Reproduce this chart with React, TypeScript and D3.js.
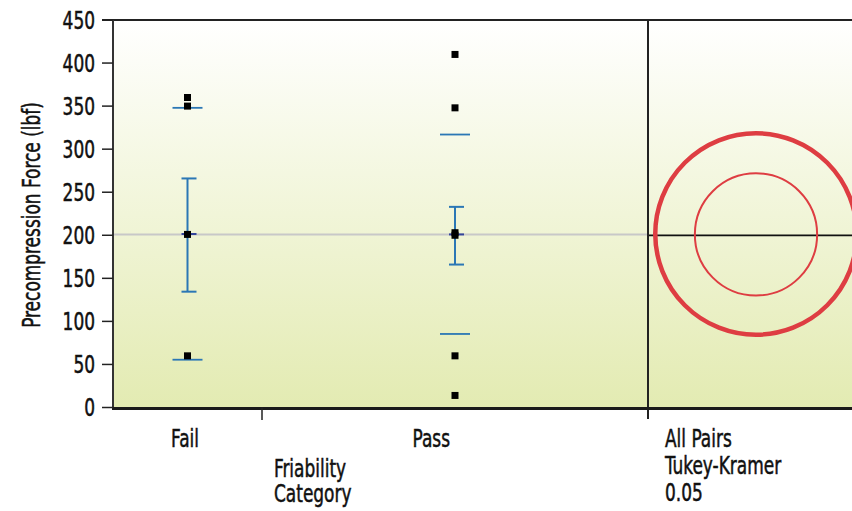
import React from "react";
import * as d3 from "d3";

const categories = ["Fail", "Pass"];
const bandWeights = [149, 386];
const failPoints = [360, 350, 201, 60];
const passPoints = [410, 348, 203, 200, 60, 14];
const means = [201.5, 201];
const ciLower = [134.5, 166];
const ciUpper = [266, 233];
const sdLower = [55.5, 85.4];
const sdUpper = [348, 317];
const circleRadii = [117, 71];
const grandMean = 201;
const yTicks = [0, 50, 100, 150, 200, 250, 300, 350, 400, 450];
const rightLabel = ["All Pairs", "Tukey-Kramer", "0.05"];
const xTitle = ["Friability", "Category"];
const yTitle = "Precompression Force (lbf)";

const W = 852, H = 511;
const L = 113, R = 648, T = 20, B = 407.5;
const FONT = "'DejaVu Sans Condensed', 'DejaVu Sans', sans-serif";
const BLUE = "#2b77b5";
const RED = "#de3d42";
const SX = 0.77;

function T_({ x, y, children, anchor = "start", rotate = 0, size = 24.5 }: any) {
  return (
    <text
      transform={`translate(${x},${y}) rotate(${rotate}) scale(${SX},1)`}
      textAnchor={anchor}
      fontSize={size}
      fill="#111"
      stroke="#111"
      strokeWidth={0.5}
    >
      {children}
    </text>
  );
}

export default function App() {
  const y = d3.scaleLinear().domain([0, 450]).range([B, T]);
  const total = d3.sum(bandWeights);
  const widths = bandWeights.map((w) => (w / total) * (R - L));
  const starts = widths.map((_, i) => L + d3.sum(widths.slice(0, i)));
  const centers = widths.map((w, i) => starts[i] + w / 2);
  const pointsByCat = [failPoints, passPoints];
  const rightCx = 756;

  return (
    <svg width={W} height={H} style={{ position: "absolute", left: 0, top: 0 }} fontFamily={FONT}>
      <defs>
        <linearGradient id="bg" x1="0" y1="0" x2="0" y2="1">
          <stop offset="0%" stopColor="#ffffff" />
          <stop offset="100%" stopColor="#e3ebb2" />
        </linearGradient>
        <clipPath id="rclip">
          <rect x={R} y={T} width={W - R} height={B - T} />
        </clipPath>
      </defs>
      <rect x={0} y={0} width={W} height={H} fill="#fff" />
      <rect x={L} y={T} width={W - L} height={B - T} fill="url(#bg)" />

      <line x1={L} x2={R} y1={y(grandMean)} y2={y(grandMean)} stroke="#c8c8c8" strokeWidth={2} />

      {categories.map((c, i) => {
        const cx = centers[i];
        return (
          <g key={c}>
            <line x1={cx - 15} x2={cx + 15} y1={y(sdUpper[i])} y2={y(sdUpper[i])} stroke={BLUE} strokeWidth={1.8} />
            <line x1={cx - 15} x2={cx + 15} y1={y(sdLower[i])} y2={y(sdLower[i])} stroke={BLUE} strokeWidth={1.8} />
            <line x1={cx} x2={cx} y1={y(ciUpper[i])} y2={y(ciLower[i])} stroke={BLUE} strokeWidth={2} />
            <line x1={cx - 6} x2={cx + 9} y1={y(ciUpper[i])} y2={y(ciUpper[i])} stroke={BLUE} strokeWidth={2} />
            <line x1={cx - 6} x2={cx + 9} y1={y(ciLower[i])} y2={y(ciLower[i])} stroke={BLUE} strokeWidth={2} />
            <line x1={cx - 6} x2={cx + 9} y1={y(means[i])} y2={y(means[i])} stroke="#34449a" strokeWidth={2} />
            {pointsByCat[i].map((v, j) => (
              <rect key={j} x={cx - 3.5} y={y(v) - 3.5} width={7} height={7} fill="#000" />
            ))}
          </g>
        );
      })}

      <g clipPath="url(#rclip)">
        <line x1={R} x2={W} y1={y(200)} y2={y(200)} stroke="#111" strokeWidth={1.8} />
        {categories.map((c, i) => (
          <circle key={c} cx={rightCx} cy={y(means[i])} r={y(0) - y(circleRadii[i])}
            fill="none" stroke={RED} strokeWidth={i === 0 ? 4.5 : 2} />
        ))}
      </g>

      <line x1={102} x2={W} y1={T} y2={T} stroke="#222" strokeWidth={2} />
      <line x1={L} x2={L} y1={T} y2={B} stroke="#333" strokeWidth={2} />
      <line x1={R} x2={R} y1={T} y2={419} stroke="#222" strokeWidth={2} />
      <line x1={L - 1} x2={W} y1={B + 1} y2={B + 1} stroke="#1a1a1a" strokeWidth={3} />

      {yTicks.map((t) => (
        <g key={t}>
          <line x1={102} x2={L} y1={y(t)} y2={y(t)} stroke="#222" strokeWidth={1.5} />
          <T_ x={95} y={y(t) + 8.6} anchor="end">{t}</T_>
        </g>
      ))}
      <T_ x={40} y={215} anchor="middle" rotate={-90}>{yTitle}</T_>

      {starts.slice(1).map((s, i) => (
        <line key={i} x1={s} x2={s} y1={B} y2={420} stroke="#222" strokeWidth={1.5} />
      ))}
      {categories.map((c, i) => (
        <T_ key={c} x={starts[i] + widths[i] * 0.39} y={446.5}>{c}</T_>
      ))}
      {xTitle.map((t, i) => (
        <T_ key={t} x={274} y={477 + i * 25}>{t}</T_>
      ))}
      {rightLabel.map((t, i) => (
        <T_ key={t} x={665} y={446.5 + i * 27}>{t}</T_>
      ))}
    </svg>
  );
}
